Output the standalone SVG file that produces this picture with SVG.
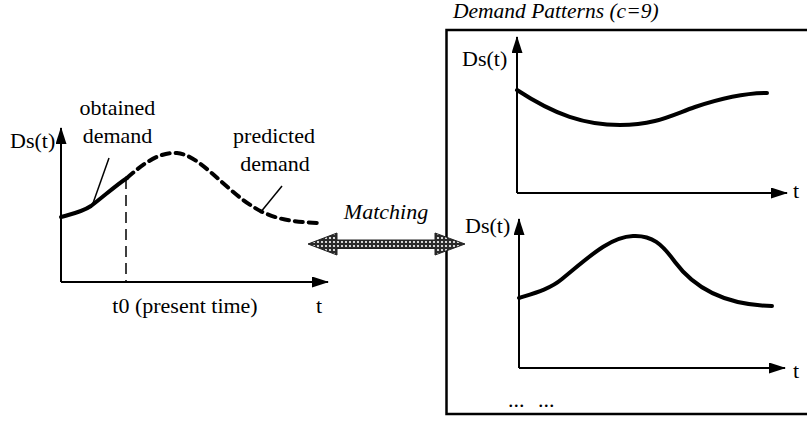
<svg xmlns="http://www.w3.org/2000/svg" width="807" height="422" viewBox="0 0 807 422" font-family="'Liberation Serif', 'DejaVu Serif', serif">
<style>
text{font-family:'Liberation Serif','DejaVu Serif',serif;font-size:22px;fill:#000}
.it{font-style:italic}
.axis{stroke:#000;stroke-width:2;fill:none}
.curve{stroke:#000;stroke-width:4;fill:none;stroke-linecap:round}
.thin{stroke:#000;stroke-width:1.5;fill:none}
</style>
<defs>
<marker id="ah" viewBox="0 0 17 11" refX="16" refY="5.5" markerWidth="17" markerHeight="11" markerUnits="userSpaceOnUse" orient="auto">
<path d="M0,0 L17,5.5 L0,11 Z" fill="#000"/>
</marker>
<pattern id="chk" width="4" height="4" patternUnits="userSpaceOnUse">
<rect width="4" height="4" fill="#2a2a2a"/>
<circle cx="2" cy="2" r="1.1" fill="#fff"/>
</pattern>
</defs>

<g id="left-plot">
<line class="axis" x1="61" y1="282" x2="61" y2="128" marker-end="url(#ah)"/>
<line class="axis" x1="61" y1="282" x2="328" y2="282" marker-end="url(#ah)"/>
<text x="10" y="148">Ds(t)</text>
<text x="316" y="313">t</text>
<text x="185" y="313" text-anchor="middle">t0 (present time)</text>
<path class="curve" d="M61,217 C72,214 82,212 91,206 C103,197 115,186 127,178"/>
<path class="curve" stroke-dasharray="8 6" stroke-linecap="butt" d="M127,178 C145,162 160,152 177,153 C200,155 225,190 255,208 C275,220 295,222 318,223"/>
<line class="thin" x1="126" y1="178" x2="126" y2="282" stroke-dasharray="11 6"/>
<line class="thin" x1="109" y1="158" x2="92" y2="206"/>
<line class="thin" x1="282" y1="186" x2="260" y2="213"/>
<text x="117.5" y="115" text-anchor="middle">obtained</text>
<text x="117.5" y="143" text-anchor="middle">demand</text>
<text x="274" y="143" text-anchor="middle">predicted</text>
<text x="275" y="171" text-anchor="middle">demand</text>
</g>

<g id="patterns-box">
<rect x="446.5" y="30" width="370" height="384" fill="none" stroke="#000" stroke-width="2.5"/>
<text class="it" x="453" y="18" style="font-size:21.5px">Demand Patterns (c=9)</text>
<text x="508" y="407" word-spacing="8">... ...</text>
</g>

<g id="pattern-1">
<line class="axis" x1="517" y1="193" x2="517" y2="37" marker-end="url(#ah)"/>
<line class="axis" x1="517" y1="193" x2="787" y2="193" marker-end="url(#ah)"/>
<text x="462" y="66">Ds(t)</text>
<text x="793" y="198">t</text>
<path class="curve" d="M517,90 C555,115 585,125 620,125 C655,125 672,115 695,107 C725,97 748,93 767,93"/>
</g>

<g id="pattern-2">
<line class="axis" x1="519" y1="368" x2="519" y2="219" marker-end="url(#ah)"/>
<line class="axis" x1="519" y1="368" x2="785" y2="368" marker-end="url(#ah)"/>
<text x="465" y="233">Ds(t)</text>
<text x="793" y="378">t</text>
<path class="curve" d="M519,298 C535,293 550,289 562,279 C590,256 610,237 633,236 C652,235 662,244 675,262 C695,289 725,305 772,306"/>
</g>

<g id="connectors">
<polygon points="308,244 337,233 337,240 435,240 435,233 465,244 435,255 435,248.5 337,248.5 337,255" fill="url(#chk)" stroke="#222" stroke-width="1"/>
<text class="it" x="386" y="219" text-anchor="middle">Matching</text>
</g>
</svg>
